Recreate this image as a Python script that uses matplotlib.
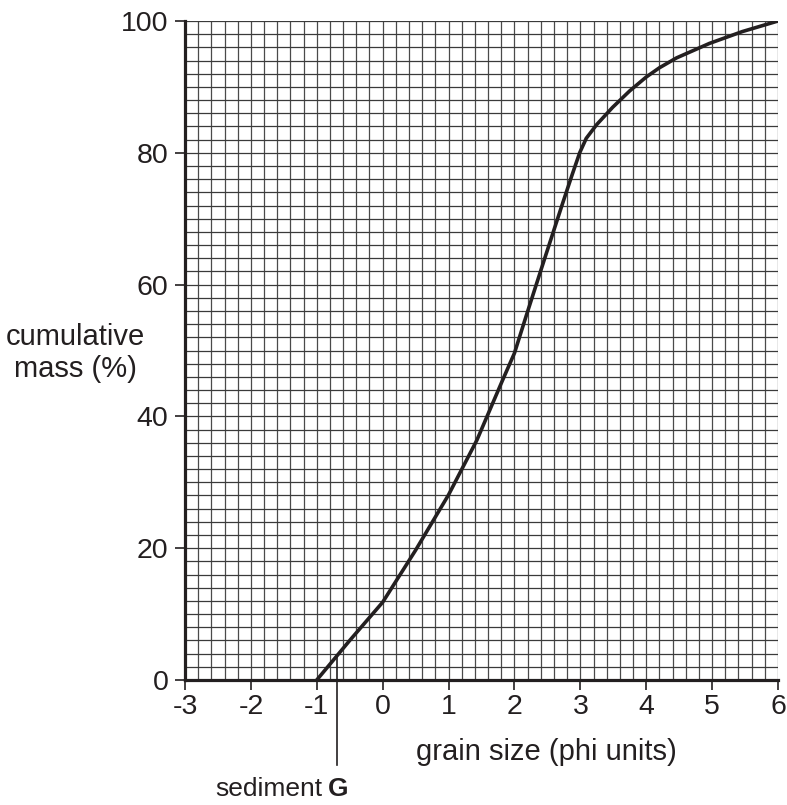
import matplotlib.pyplot as plt
import numpy as np

# grain size (phi) vs cumulative mass (%)
phi = [-1, -0.5, 0, 0.5, 1, 1.43, 1.82, 2.0, 2.18, 2.46, 2.73, 2.88, 2.99, 3.09,
       3.25, 3.49, 3.75, 4.0, 4.2, 4.46, 4.96, 5.46, 6.0]
cum_mass = [0, 6.0, 11.8, 19.7, 28.1, 36.4, 45.5, 49.6, 55.3, 64.0, 72.3, 76.8, 80.0, 82.2,
            84.3, 86.9, 89.4, 91.5, 92.9, 94.4, 96.6, 98.4, 100]

x_ticks = [-3, -2, -1, 0, 1, 2, 3, 4, 5, 6]
y_ticks = [0, 20, 40, 60, 80, 100]

# sediment G marker
g_phi = -0.7
g_top = 3.5

plt.rcParams['font.family'] = ['Liberation Sans', 'DejaVu Sans']
ink = '#231f20'

fig = plt.figure(figsize=(7.87, 8.05), dpi=100)
ax = fig.add_axes([185 / 787, 125 / 805, 593 / 787, 659 / 805])

ax.set_xlim(-3, 6)
ax.set_ylim(0, 100)

# graph paper grid
for gx in np.arange(-3, 6.01, 0.2):
    ax.axvline(gx, color='#4a4a4a', lw=0.9, zorder=1)
for gy in np.arange(0, 100.1, 2):
    ax.axhline(gy, color='#3a3a3a', lw=0.9, zorder=1)

ax.plot(phi, cum_mass, color=ink, lw=2.6, zorder=3, solid_joinstyle='round')

ax.plot([g_phi, g_phi], [g_top, -12.9], color=ink, lw=1.2, clip_on=False, zorder=3)
ax.text(-0.91, -17.6, "sediment", ha='right', va='baseline', fontsize=19, color=ink)
ax.text(-0.83, -17.6, "G", ha='left', va='baseline', fontsize=19, fontweight='bold', color=ink)

for s in ['top', 'right']:
    ax.spines[s].set_visible(False)
for s in ['left', 'bottom']:
    ax.spines[s].set_linewidth(2.3)
    ax.spines[s].set_color(ink)
    ax.spines[s].set_zorder(4)

ax.set_xticks(x_ticks)
ax.set_xticklabels([str(v) for v in x_ticks])
ax.set_yticks(y_ticks)
ax.set_yticklabels([str(v) for v in y_ticks])
ax.tick_params(axis='both', direction='out', length=7, width=1.2, colors=ink, labelsize=20.5)
ax.tick_params(axis='x', pad=3)
ax.tick_params(axis='y', pad=5)

fig.text(75 / 787, 1 - 353 / 805, "cumulative\nmass (%)", ha='center', va='center',
         fontsize=21, color=ink, linespacing=1.15)
fig.text(546 / 787, 1 - 752 / 805, "grain size (phi units)", ha='center', va='center',
         fontsize=21, color=ink)

fig.savefig("out.png", dpi=100)
